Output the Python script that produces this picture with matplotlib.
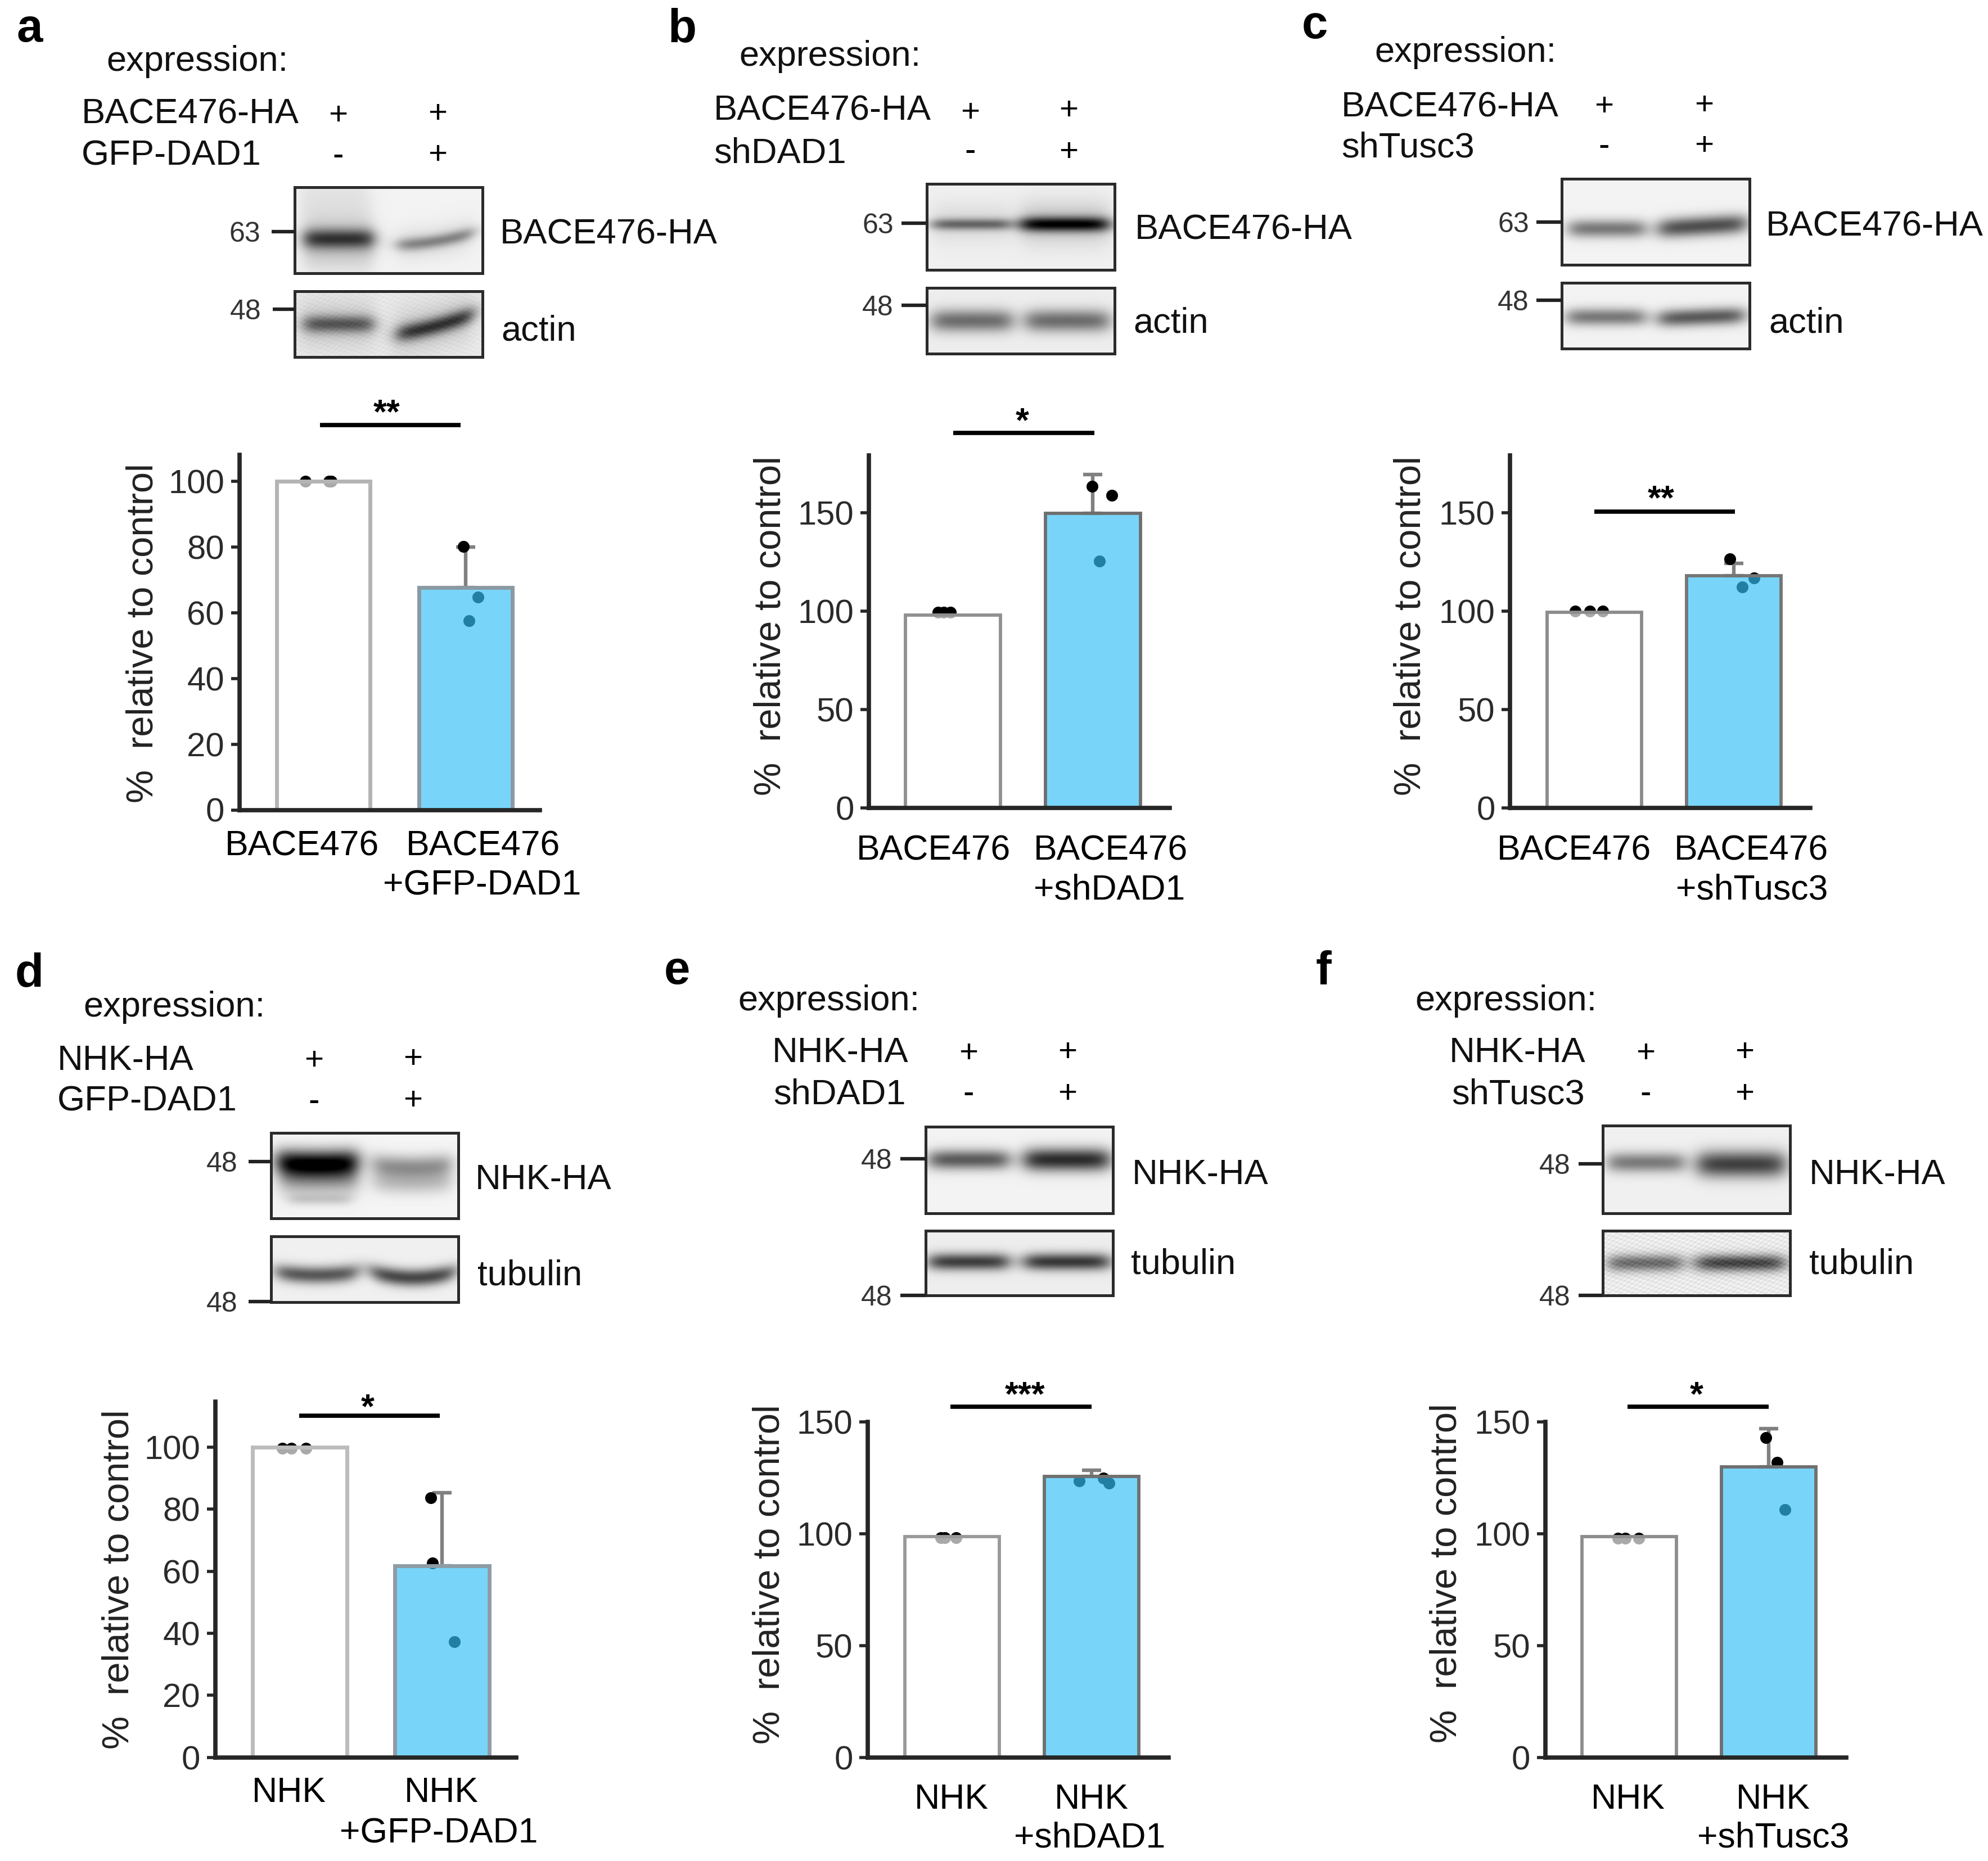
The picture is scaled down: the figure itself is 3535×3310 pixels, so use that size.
import matplotlib
matplotlib.use('Agg')
import matplotlib.pyplot as plt
from matplotlib.patches import Rectangle
import numpy as np

plt.rcParams['font.family'] = ['Liberation Sans', 'DejaVu Sans']

W, H = 3535, 3310

## Values
a_means = [100, 67.6]
a_err   = [0, 12.3]
a_ctrl  = [100, 100, 100]
a_treat = [80.2, 64.7, 57.5]
a_ctrl_x  = [-0.127, 0.04, 0.055]
a_treat_x = [-0.014, 0.087, 0.024]

b_means = [97.9, 149.6]
b_err   = [0, 19.8]
b_ctrl  = [99.3, 99.3, 99.3]
b_treat = [163.2, 158.7, 125.3]
b_ctrl_x  = [-0.105, -0.065, -0.02]
b_treat_x = [-0.004, 0.137, 0.05]

c_means = [99.3, 117.9]
c_err   = [0, 6.4]
c_ctrl  = [99.8, 99.8, 99.8]
c_treat = [126.4, 116.7, 112.2]
c_ctrl_x  = [-0.135, -0.03, 0.0625]
c_treat_x = [-0.027, 0.146, 0.0625]

d_means = [100, 61.7]
d_err   = [0, 23.6]
d_ctrl  = [99.7, 99.7, 99.7]
d_treat = [83.7, 62.7, 37.3]
d_ctrl_x  = [-0.12, -0.058, 0.043]
d_treat_x = [-0.08, -0.068, 0.088]

e_means = [98.6, 125.5]
e_err   = [0, 2.9]
e_ctrl  = [98.2, 98.2, 98.2]
e_treat = [123.6, 124.9, 122.6]
e_ctrl_x  = [-0.08, -0.05, 0.03]
e_treat_x = [-0.09, 0.085, 0.125]

f_means = [98.8, 129.9]
f_err   = [0, 17.2]
f_ctrl  = [98, 98, 98]
f_treat = [143, 131.8, 110.8]
f_ctrl_x  = [-0.08, -0.03, 0.07]
f_treat_x = [-0.02, 0.06, 0.117]

ticks_100 = [0, 20, 40, 60, 80, 100]
ticks_150 = [0, 50, 100, 150]

ylabel = '%  relative to control'
blue_fill  = (52/255, 192/255, 247/255, 0.667)
white_fill = (1, 1, 1, 0.667)
dark = '#262626'

## Pixel layout of every panel: axes box, bars, texts
panels = [
    dict(letter='a', lpos=(30, 74), means=a_means, err=a_err, ctrl=a_ctrl, treat=a_treat,
         ctrl_x=a_ctrl_x, treat_x=a_treat_x, ticks=ticks_100, ymax=108,
         box=(425.5, 960, 1440.5, 809), c0=575, c1=828, bw=166,
         edges=('#b4b4b4', '#8b99a3'), sw=5,
         ylab=(254, 1126), sig=(569, 819, 756, 688, 718, '**'),
         xlab=[('BACE476', 537, 1521), ('BACE476', 859, 1521), ('+GFP-DAD1', 857, 1592)]),
    dict(letter='b', lpos=(1187, 74), means=b_means, err=b_err, ctrl=b_ctrl, treat=b_treat,
         ctrl_x=b_ctrl_x, treat_x=b_treat_x, ticks=ticks_150, ymax=179,
         box=(1545, 2080, 1437, 810), c0=1694.5, c1=1943, bw=169,
         edges=('#909090', '#6e6e6e'), sw=4.2,
         ylab=(1370, 1113), sig=(1695, 1946, 770, 1818, 733, '*'),
         xlab=[('BACE476', 1660, 1529), ('BACE476', 1975, 1529), ('+shDAD1', 1973, 1600)]),
    dict(letter='c', lpos=(2315, 68), means=c_means, err=c_err, ctrl=c_ctrl, treat=c_treat,
         ctrl_x=c_ctrl_x, treat_x=c_treat_x, ticks=ticks_150, ymax=179,
         box=(2685, 3219, 1437, 810), c0=2834.5, c1=3082.5, bw=168,
         edges=('#8c8c8c', '#757575'), sw=4.2,
         ylab=(2509, 1113), sig=(2835, 3085, 910, 2954, 871, '**'),
         xlab=[('BACE476', 2799, 1529), ('BACE476', 3114, 1529), ('+shTusc3', 3115, 1600)]),
    dict(letter='d', lpos=(27, 1754), means=d_means, err=d_err, ctrl=d_ctrl, treat=d_treat,
         ctrl_x=d_ctrl_x, treat_x=d_treat_x, ticks=ticks_100, ymax=114.7,
         box=(382.5, 918, 3125.5, 2493), c0=532.7, c1=785.8, bw=168,
         edges=('#bcbcbc', '#8f9ca6'), sw=5,
         ylab=(212, 2809), sig=(532, 782, 2518, 654, 2487, '*'),
         xlab=[('NHK', 514, 3205), ('NHK', 785, 3205), ('+GFP-DAD1', 780, 3277)]),
    dict(letter='e', lpos=(1181, 1750), means=e_means, err=e_err, ctrl=e_ctrl, treat=e_treat,
         ctrl_x=e_ctrl_x, treat_x=e_treat_x, ticks=ticks_150, ymax=150,
         box=(1543, 2078, 3125.5, 2529), c0=1692.5, c1=1941, bw=168,
         edges=('#999999', '#707070'), sw=4.2,
         ylab=(1368, 2800), sig=(1690, 1941, 2502, 1823, 2465, '***'),
         xlab=[('NHK', 1692, 3217), ('NHK', 1941, 3217), ('+shDAD1', 1938, 3286)]),
    dict(letter='f', lpos=(2340, 1750), means=f_means, err=f_err, ctrl=f_ctrl, treat=f_treat,
         ctrl_x=f_ctrl_x, treat_x=f_treat_x, ticks=ticks_150, ymax=150,
         box=(2747.5, 3283, 3125.5, 2529), c0=2897, c1=3145, bw=168,
         edges=('#8e8e8e', '#6f6f6f'), sw=4.2,
         ylab=(2572, 2798), sig=(2894, 3145, 2502, 3017, 2465, '*'),
         xlab=[('NHK', 2895, 3217), ('NHK', 3153, 3217), ('+shTusc3', 3153, 3286)]),
]

## Western blot headers: (text, x, baseline)
headers = [
    [('expression:', 189, 126), ('BACE476-HA', 145, 220), ('GFP-DAD1', 145, 293)],
    [('expression:', 1314, 117), ('BACE476-HA', 1269, 214), ('shDAD1', 1269, 289)],
    [('expression:', 2444, 110), ('BACE476-HA', 2385, 207), ('shTusc3', 2385, 280)],
    [('expression:', 148, 1808), ('NHK-HA', 102, 1903), ('GFP-DAD1', 102, 1975)],
    [('expression:', 1312, 1797), ('NHK-HA', 1373, 1889), ('shDAD1', 1375, 1964)],
    [('expression:', 2516, 1797), ('NHK-HA', 2577, 1889), ('shTusc3', 2581, 1964)],
]
# (sign, x, y centre)
signs = [
    [('+', 601, 201), ('+', 778, 198), ('-', 601, 278), ('+', 778, 271)],
    [('+', 1725, 196), ('+', 1900, 192), ('-', 1725, 270), ('+', 1900, 266)],
    [('+', 2852, 185), ('+', 3030, 183), ('-', 2852, 261), ('+', 3030, 255)],
    [('+', 558, 1882), ('+', 734, 1879), ('-', 558, 1960), ('+', 734, 1953)],
    [('+', 1722, 1869), ('+', 1898, 1867), ('-', 1722, 1946), ('+', 1898, 1941)],
    [('+', 2926, 1869), ('+', 3102, 1867), ('-', 2926, 1946), ('+', 3102, 1941)],
]

## Blots: box (x0, x1, y0, y1), background, bands (l, r, yc, sigma, depth, smile, tilt), grain
blots = [
    ((524, 858, 333, 486), 0.95, [(.05, .42, .60, .06, .60, 0, 0), (.05, .42, .66, .15, .22, 0, 0),
                                  (.03, .40, .15, .22, .07, 0, 0), (.55, .95, .60, .04, .38, .03, .14),
                                  (.55, .95, .60, .10, .10, .03, .14)], 0),
    ((524, 858, 518, 635), 0.91, [(.05, .42, .50, .07, .50, 0, 0), (.03, .42, .50, .20, .14, 0, 0),
                                  (.55, .95, .50, .07, .65, .03, .30), (.53, .95, .50, .20, .14, .03, .30)], .02),
    ((1648, 1982, 327, 480), 0.94, [(.03, .44, .47, .035, .50, 0, 0), (.03, .44, .45, .12, .10, 0, 0),
                                    (.50, .97, .47, .045, .85, 0, 0), (.50, .97, .45, .13, .20, 0, 0)], 0),
    ((1648, 1982, 512, 629), 0.93, [(.03, .45, .50, .09, .55, 0, 0), (.53, .97, .50, .09, .55, 0, 0)], 0),
    ((2777, 3111, 318, 471), 0.95, [(.04, .44, .58, .055, .52, 0, 0), (.52, .98, .55, .06, .70, 0, .06)], 0),
    ((2777, 3111, 503, 620), 0.95, [(.03, .44, .52, .07, .52, 0, 0), (.52, .97, .52, .07, .65, 0, .05)], 0),
    ((482, 815, 2015, 2167), 0.96, [(.03, .46, .33, .08, .85, .02, 0), (.05, .46, .50, .11, .45, 0, 0),
                                    (.10, .42, .78, .035, .14, 0, 0), (.55, .96, .37, .07, .42, .03, 0),
                                    (.55, .96, .57, .07, .22, .02, 0)], 0),
    ((482, 815, 2199, 2316), 0.94, [(.03, .46, .54, .07, .65, .05, 0), (.54, .98, .54, .07, .72, .09, 0)], 0),
    ((1646, 1979, 2004, 2158), 0.95, [(.02, .44, .38, .06, .65, 0, 0), (.53, .98, .38, .07, .85, 0, 0)], 0),
    ((1646, 1979, 2189, 2304), 0.93, [(.02, .44, .48, .07, .75, 0, 0), (.53, .98, .48, .07, .78, 0, 0)], 0),
    ((2850, 3183, 2002, 2158), 0.94, [(.03, .43, .42, .06, .50, 0, 0), (.51, .97, .44, .08, .75, 0, 0)], 0),
    ((2850, 3183, 2189, 2304), 0.92, [(.03, .42, .50, .07, .55, 0, 0), (.50, .97, .50, .07, .72, 0, 0)], .05),
]

## Blot side labels: (text, x, baseline)
blot_labels = [
    ('BACE476-HA', 889, 434), ('actin', 891, 605),
    ('BACE476-HA', 2018, 426), ('actin', 2015, 591),
    ('BACE476-HA', 3140, 419), ('actin', 3145, 591),
    ('NHK-HA', 845, 2115), ('tubulin', 849, 2285),
    ('NHK-HA', 2013, 2106), ('tubulin', 2011, 2266),
    ('NHK-HA', 3217, 2106), ('tubulin', 3217, 2266),
]
# (label, text right edge, tick left, tick right, y)
mw_marks = [
    ('63', 463, 483, 524, 412), ('48', 464, 485, 524, 550),
    ('63', 1589, 1603, 1648, 397), ('48', 1589, 1603, 1648, 543),
    ('63', 2719, 2732, 2777, 395), ('48', 2719, 2732, 2777, 534),
    ('48', 422, 442, 482, 2066), ('48', 422, 442, 482, 2315),
    ('48', 1587, 1601, 1646, 2061), ('48', 1587, 1601, 1646, 2304),
    ('48', 2793, 2807, 2850, 2070), ('48', 2793, 2807, 2850, 2304),
]

fig = plt.figure(figsize=(W/100, H/100), dpi=100, facecolor='white')

def draw_bars(p):
    left, right, bottom, top = p['box']
    ax = fig.add_axes([left/W, 1 - bottom/H, (right - left)/W, (bottom - top)/H])
    ax.patch.set_visible(False)
    spacing = p['c1'] - p['c0']
    ax.set_xlim((left - p['c0'])/spacing, (right - p['c0'])/spacing)
    ax.set_ylim(0, p['ymax'])

    # points sit under the see-through bars, as in the original
    ax.scatter(p['ctrl_x'], p['ctrl'], s=230, color='black', linewidths=0, zorder=2, clip_on=False)
    ax.scatter(1 + np.array(p['treat_x']), p['treat'], s=230, color='black', linewidths=0, zorder=2, clip_on=False)
    ax.errorbar([1], [p['means'][1]], yerr=[[0], [p['err'][1]]], color='#808080',
                elinewidth=4.6, capsize=12, capthick=4.6, zorder=1, fmt='none')
    ax.bar([0, 1], p['means'], width=p['bw']/spacing, color=[white_fill, blue_fill],
           edgecolor=p['edges'], linewidth=p['sw'], zorder=3)

    for side in ['top', 'right']:
        ax.spines[side].set_visible(False)
    for side in ['left', 'bottom']:
        ax.spines[side].set_linewidth(5.5)
        ax.spines[side].set_color(dark)
        ax.spines[side].set_zorder(4)
    ax.set_xticks([])
    ax.set_yticks(p['ticks'])
    ax.tick_params(axis='y', length=11, width=4, color=dark, labelsize=43,
                   labelcolor='#2a2a2a', pad=8)

def draw_blot(ov, box, bg, bands, grain):
    x0, x1, y0, y1 = box
    h, w = int(y1 - y0), int(x1 - x0)
    yy, xx = np.mgrid[0:1:h*1j, 0:1:w*1j]
    img = np.full((h, w), bg)
    for l, r, yc, sig, depth, smile, tilt in bands:
        u = (xx - l)/(r - l)
        edge = 1/(1 + np.exp(-u*16))/(1 + np.exp((u - 1)*16))
        centre = yc + smile*(1 - (2*u - 1)**2) - tilt*(u - 0.5)
        # bands in the reference are soft, so widen them a bit
        img = img - 0.92*depth*edge*np.exp(-((yy - centre)/(1.35*sig))**2/2)
    if grain:
        img = img + grain*np.sin(xx*150)*np.sin(yy*90 + xx*60)
    ov.imshow(np.clip(img, 0, 1), cmap='gray', vmin=0, vmax=1, extent=(x0, x1, y1, y0),
              aspect='auto', interpolation='bilinear', zorder=1)
    ov.add_patch(Rectangle((x0, y0), x1 - x0, y1 - y0, fill=False, edgecolor='#2b2b2b',
                           linewidth=3.6, zorder=2))

for p in panels:
    draw_bars(p)

# Everything that is not a bar chart goes on an overlay in pixel coordinates
ov = fig.add_axes([0, 0, 1, 1], zorder=5)
ov.axis('off')

for box, bg, bands, grain in blots:
    draw_blot(ov, box, bg, bands, grain)
ov.set_xlim(0, W)
ov.set_ylim(H, 0)

def label(txt, x, y, size=45.5, ha='left', **kw):
    ov.text(x, y, txt, fontsize=size, ha=ha, va='baseline', color=kw.pop('color', '#111111'), **kw)

for p in panels:
    label(p['letter'], p['lpos'][0], p['lpos'][1], size=60, fontweight='bold', color='black')
    ov.text(p['ylab'][0], p['ylab'][1], ylabel, fontsize=48, rotation=90, ha='center', va='center', color='#222222')
    x0, x1, ybar, xs, ys, stars = p['sig']
    ov.plot([x0, x1], [ybar, ybar], color='black', linewidth=5.5, solid_capstyle='butt')
    label(stars, xs, ys + 34, size=44, ha='center', fontweight='bold', color='black')
    for txt, x, y in p['xlab']:
        label(txt, x, y, size=45, ha='center', color='black')

for rows in headers:
    for txt, x, y in rows:
        label(txt, x, y)
for rows in signs:
    for s, x, y in rows:
        label(s, x, y + (20 if s == '+' else 15), size=42, ha='center', color='black')
for txt, x, y in blot_labels:
    label(txt, x, y)
for txt, xt, x0, x1, y in mw_marks:
    label(txt, xt, y + 18, size=36, ha='right', color='#333333')
    ov.plot([x0, x1], [y, y], color='#222222', linewidth=4.5, solid_capstyle='butt')

fig.savefig('out.png', dpi=100)
